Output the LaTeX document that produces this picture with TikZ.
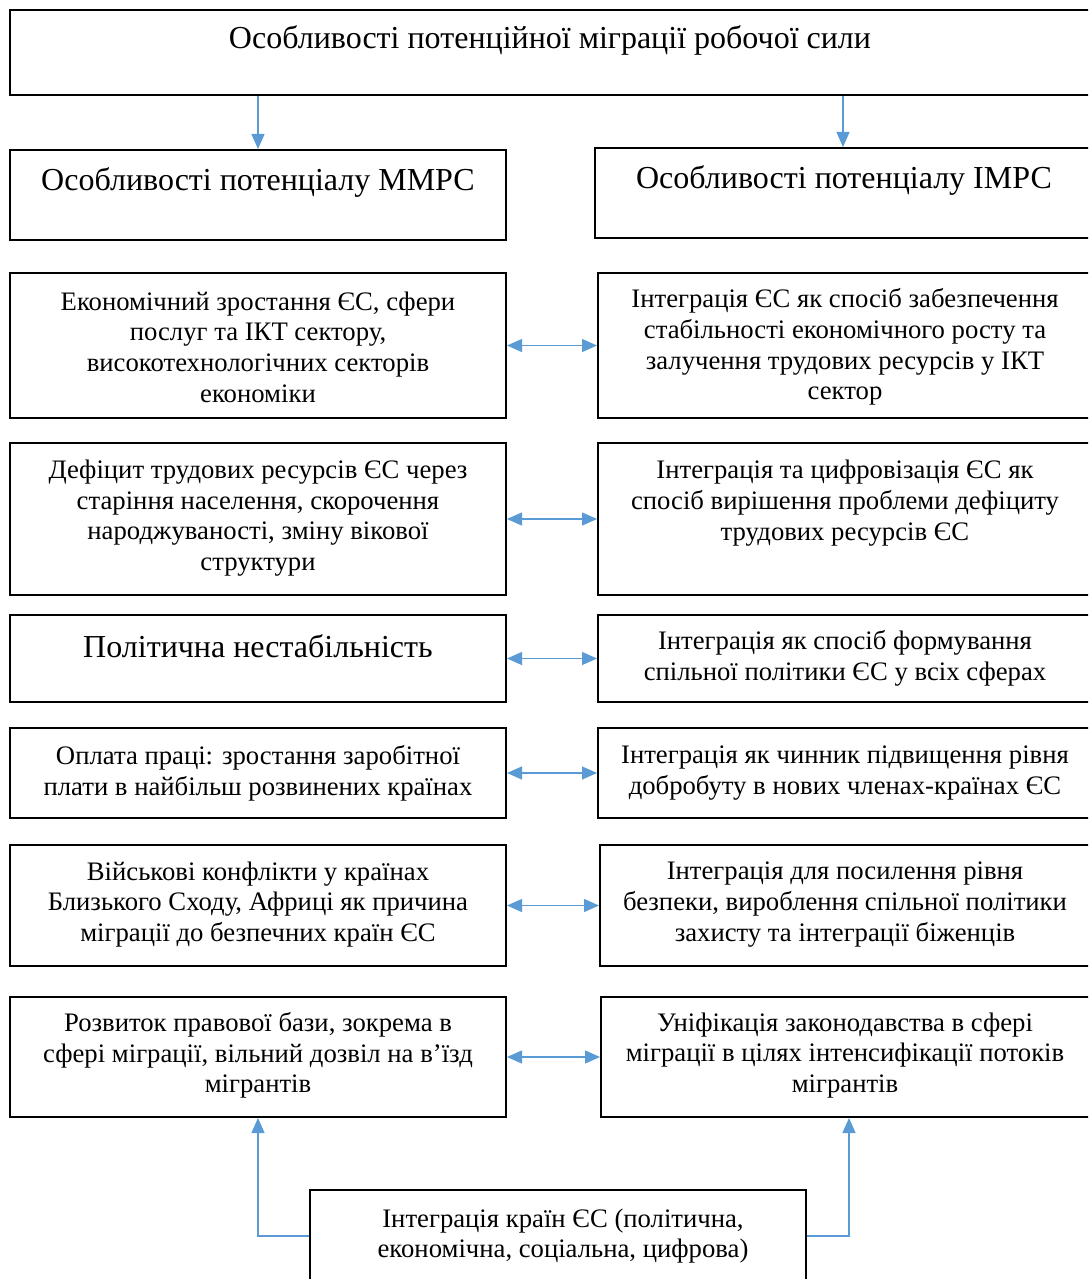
\documentclass[tikz,border=0pt]{standalone}
\usepackage{fontspec}
\setmainfont{Liberation Serif}
\usetikzlibrary{arrows.meta}
\definecolor{arrblue}{HTML}{5B9BD5}
\tikzset{
  x=1pt,y=1pt,
  box/.style={draw=black,line width=2pt,rectangle,inner sep=0pt},
  txt/.style={align=center,font=\fontsize{26.7}{30.7}\selectfont,inner sep=0pt},
  bigtxt/.style={align=center,font=\fontsize{32}{36}\selectfont,inner sep=0pt},
  arr/.style={draw=arrblue,line width=1.3pt,-{Triangle[length=15pt,width=13pt]}},
  darr/.style={draw=arrblue,line width=1.3pt,{Triangle[length=15pt,width=13pt]}-{Triangle[length=15pt,width=13pt]}},
}
\begin{document}
\begin{tikzpicture}
\useasboundingbox (0,0) rectangle (1088,-1279);
\clip (0,0) rectangle (1088,-1279);
% top
\node[box,minimum width=1090pt,minimum height=85pt] (top) at (555,-52.5) {};
\node[bigtxt] (toptxt) at (550,-40) {Особливості потенційної міграції робочої сили};
% headers
\node[box,minimum width=496pt,minimum height=90pt] (mm) at (258,-195) {};
\node[bigtxt] (mmtxt) at (258,-182) {Особливості потенціалу ММРС};
\node[box,minimum width=505pt,minimum height=90pt] (im) at (847.5,-193) {};
\node[bigtxt] (imtxt) at (844,-180) {Особливості потенціалу ІМРС};
% row 1
\node[box,minimum width=496pt,minimum height=145pt] (l1) at (258,-345.5) {};
\node[txt] (l1t) at (258,-347) {Економічний зростання ЄС, сфери\\послуг та ІКТ сектору,\\високотехнологічних секторів\\економіки};
\node[box,minimum width=502pt,minimum height=145pt] (r1) at (849,-345.5) {};
\node[txt] (r1t) at (845,-347) {Інтеграція ЄС як спосіб забезпечення\\стабільності економічного росту та\\залучення трудових ресурсів у ІКТ\\сектор};
% row 2
\node[box,minimum width=496pt,minimum height=152pt] (l2) at (258,-519) {};
\node[txt] (l2t) at (258,-518) {Дефіцит трудових ресурсів ЄС через\\старіння населення, скорочення\\народжуваності, зміну вікової\\структури};
\node[box,minimum width=502pt,minimum height=152pt] (r2) at (849,-519) {};
\node[txt] (r2t) at (845,-503) {Інтеграція та цифровізація ЄС як\\спосіб вирішення проблеми дефіциту\\трудових ресурсів ЄС};
% row 3
\node[box,minimum width=496pt,minimum height=87pt] (l3) at (258,-658.5) {};
\node[bigtxt] (l3t) at (258,-646) {Політична нестабільність};
\node[box,minimum width=502pt,minimum height=87pt] (r3) at (849,-658.5) {};
\node[txt] (r3t) at (845,-658.5) {Інтеграція як спосіб формування\\спільної політики ЄС у всіх сферах};
% row 4
\node[box,minimum width=496pt,minimum height=90pt] (l4) at (258,-773) {};
\node[txt] (l4t) at (258,-773) {Оплата праці: зростання заробітної\\плати в найбільш розвинених країнах};
\node[box,minimum width=502pt,minimum height=90pt] (r4) at (849,-773) {};
\node[txt] (r4t) at (845,-773) {Інтеграція як чинник підвищення рівня\\добробуту в нових членах-країнах ЄС};
% row 5
\node[box,minimum width=496pt,minimum height=121pt] (l5) at (258,-905.5) {};
\node[txt] (l5t) at (258,-904.5) {Військові конфлікти у країнах\\Близького Сходу, Африці як причина\\міграції до безпечних країн ЄС};
\node[box,minimum width=500pt,minimum height=121pt] (r5) at (850,-905.5) {};
\node[txt] (r5t) at (845,-904.5) {Інтеграція для посилення рівня\\безпеки, вироблення спільної політики\\захисту та інтеграції біженців};
% row 6
\node[box,minimum width=496pt,minimum height=120pt] (l6) at (258,-1057) {};
\node[txt] (l6t) at (258,-1055.5) {Розвиток правової бази, зокрема в\\сфері міграції, вільний дозвіл на в’їзд\\мігрантів};
\node[box,minimum width=499pt,minimum height=120pt] (r6) at (850.5,-1057) {};
\node[txt] (r6t) at (845,-1055.5) {Уніфікація законодавства в сфері\\міграції в цілях інтенсифікації потоків\\мігрантів};
% bottom
\node[box,minimum width=496pt,minimum height=110pt] (bot) at (558,-1245) {};
\node[txt] (bott) at (563,-1236) {Інтеграція країн ЄС (політична,\\економічна, соціальна, цифрова)};
% arrows
\draw[arr] (top.south -| mm) -- (mm.north);
\draw[arr] ([xshift=-4.5pt]top.south -| im) -- ([xshift=-4.5pt]im.north);
\foreach \i in {1,...,6}{\draw[darr] (l\i.east) -- (r\i.west);}
\coordinate (bl) at (bot.west |- 0,-1236);
\coordinate (br) at (bot.east |- 0,-1236);
\draw[arr] (bl) -| (l6.south);
\draw[arr] (br) -| ([xshift=-1.5pt]r6.south);
\end{tikzpicture}
\end{document}
